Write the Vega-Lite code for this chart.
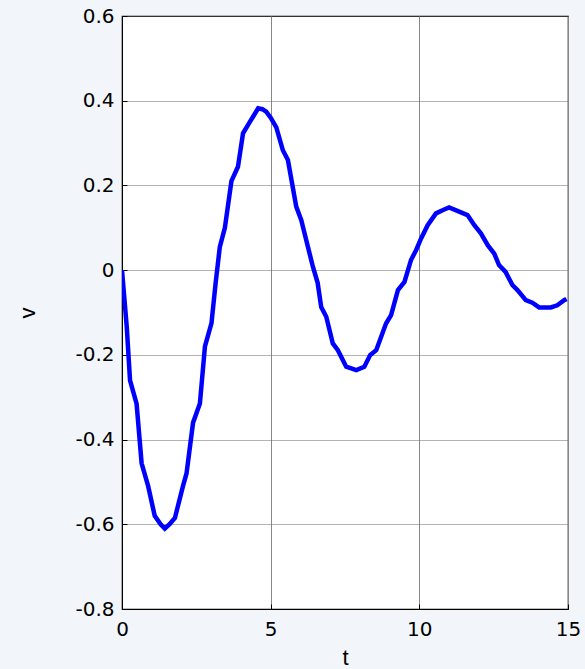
{
  "$schema": "https://vega.github.io/schema/vega-lite/v6.json",
  "autosize": {"type": "none"},
  "padding": {"left": 122, "top": 16, "right": 17, "bottom": 60},
  "width": 446,
  "height": 593,
  "background": "#f2f6fa",
  "config": {
    "view": {"fill": "white", "stroke": "black", "strokeWidth": 1.2},
    "font": "DejaVu Sans"
  },
  "data": {
    "values": [
      {"t": 0, "v": 0},
      {"t": 0.16, "v": -0.134},
      {"t": 0.27, "v": -0.26},
      {"t": 0.49, "v": -0.315},
      {"t": 0.66, "v": -0.456},
      {"t": 0.88, "v": -0.51},
      {"t": 1.1, "v": -0.58},
      {"t": 1.3, "v": -0.6},
      {"t": 1.44, "v": -0.61},
      {"t": 1.6, "v": -0.6},
      {"t": 1.78, "v": -0.585},
      {"t": 2.05, "v": -0.51},
      {"t": 2.17, "v": -0.48},
      {"t": 2.39, "v": -0.36},
      {"t": 2.62, "v": -0.315},
      {"t": 2.79, "v": -0.18},
      {"t": 3.01, "v": -0.125},
      {"t": 3.15, "v": -0.03},
      {"t": 3.29, "v": 0.055},
      {"t": 3.46, "v": 0.1},
      {"t": 3.68, "v": 0.21},
      {"t": 3.9, "v": 0.244},
      {"t": 4.07, "v": 0.323},
      {"t": 4.3, "v": 0.35},
      {"t": 4.58, "v": 0.382},
      {"t": 4.72, "v": 0.38},
      {"t": 4.85, "v": 0.374},
      {"t": 5.0, "v": 0.36},
      {"t": 5.19, "v": 0.337},
      {"t": 5.41, "v": 0.283},
      {"t": 5.58, "v": 0.26},
      {"t": 5.86, "v": 0.15},
      {"t": 6.03, "v": 0.118},
      {"t": 6.2, "v": 0.07},
      {"t": 6.42, "v": 0.008},
      {"t": 6.58, "v": -0.03},
      {"t": 6.7, "v": -0.087},
      {"t": 6.87, "v": -0.11},
      {"t": 7.09, "v": -0.173},
      {"t": 7.26, "v": -0.189},
      {"t": 7.54, "v": -0.228},
      {"t": 7.88, "v": -0.236},
      {"t": 8.15, "v": -0.228},
      {"t": 8.35, "v": -0.2},
      {"t": 8.55, "v": -0.189},
      {"t": 8.88, "v": -0.126},
      {"t": 9.05, "v": -0.106},
      {"t": 9.28, "v": -0.047},
      {"t": 9.5, "v": -0.028},
      {"t": 9.72, "v": 0.024},
      {"t": 9.89, "v": 0.047},
      {"t": 10.06, "v": 0.075},
      {"t": 10.28, "v": 0.106},
      {"t": 10.56, "v": 0.134},
      {"t": 10.8, "v": 0.142},
      {"t": 11.0, "v": 0.148},
      {"t": 11.34, "v": 0.138},
      {"t": 11.62, "v": 0.13},
      {"t": 11.85, "v": 0.106},
      {"t": 12.07, "v": 0.087},
      {"t": 12.3, "v": 0.059},
      {"t": 12.52, "v": 0.039},
      {"t": 12.68, "v": 0.012},
      {"t": 12.9, "v": -0.004},
      {"t": 13.13, "v": -0.035},
      {"t": 13.3, "v": -0.047},
      {"t": 13.58, "v": -0.071},
      {"t": 13.8, "v": -0.077},
      {"t": 14.03, "v": -0.088},
      {"t": 14.42, "v": -0.088},
      {"t": 14.64, "v": -0.083},
      {"t": 14.87, "v": -0.071},
      {"t": 14.95, "v": -0.068}
    ]
  },
  "mark": {"type": "line", "color": "#0000ff", "strokeWidth": 4.5, "clip": true},
  "encoding": {
    "x": {
      "field": "t",
      "type": "quantitative",
      "scale": {"domain": [0, 15], "nice": false, "zero": false},
      "axis": {
        "values": [0, 5, 10, 15],
        "title": "t",
        "titleFont": "Liberation Sans",
        "titleFontSize": 22,
        "titleFontWeight": "normal",
        "titleColor": "black",
        "titlePadding": 8,
        "labelFontSize": 20,
        "labelColor": "black",
        "labelPadding": 15,
        "ticks": true,
        "tickSize": -5,
        "tickColor": "black",
        "domainColor": "black",
        "grid": true,
        "gridColor": "#888888",
        "gridWidth": 1,
        "labelFlush": false
      }
    },
    "y": {
      "field": "v",
      "type": "quantitative",
      "scale": {"domain": [-0.8, 0.6], "nice": false, "zero": false},
      "axis": {
        "values": [-0.8, -0.6, -0.4, -0.2, 0, 0.2, 0.4, 0.6],
        "labelExpr": "replace(format(datum.value, '~g'), '\u2212', '-')",
        "title": "v",
        "titleFont": "Liberation Sans",
        "titleFontSize": 22,
        "titleFontWeight": "normal",
        "titleColor": "black",
        "titlePadding": 35,
        "labelFontSize": 20,
        "labelColor": "black",
        "labelPadding": 13,
        "ticks": true,
        "tickSize": -5,
        "tickColor": "black",
        "domainColor": "black",
        "grid": true,
        "gridColor": "#666666",
        "gridDash": [1, 1],
        "gridWidth": 1,
        "labelFlush": false
      }
    }
  }
}
